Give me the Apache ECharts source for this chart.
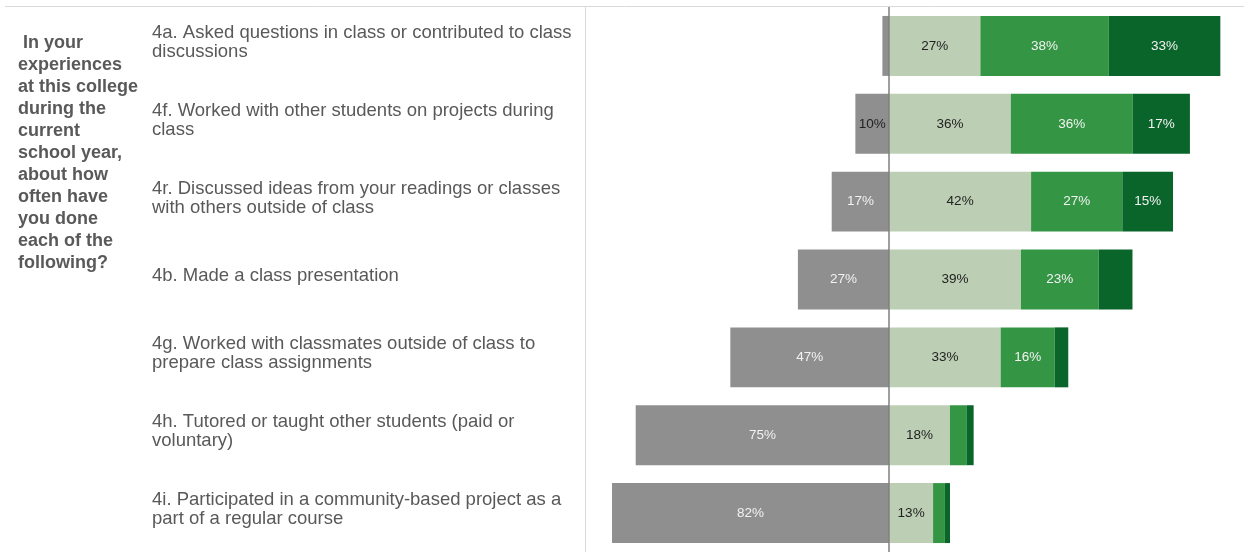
<!DOCTYPE html>
<html>
<head>
<meta charset="utf-8">
<script src="https://cdn.jsdelivr.net/npm/echarts@6/dist/echarts.min.js"></script>
<style>
  html, body { margin: 0; padding: 0; background: #fff; }
  #survey { width: 1244px; height: 552px; }
</style>
</head>
<body>
<div id="survey"></div>
<script>
// items, top to bottom
var items = [
    '4a. Asked questions in class or contributed to class\ndiscussions',
    '4f. Worked with other students on projects during\nclass',
    '4r. Discussed ideas from your readings or classes\nwith others outside of class',
    '4b. Made a class presentation',
    '4g. Worked with classmates outside of class to\nprepare class assignments',
    '4h. Tutored or taught other students (paid or\nvoluntary)',
    '4i. Participated in a community-based project as a\npart of a regular course'
];
// percent of students per answer
var never     = [2, 10, 17, 27, 47, 75, 82];
var sometimes = [27, 36, 42, 39, 33, 18, 13];
var often     = [38, 36, 27, 23, 16, 5, 3.5];
var veryOften = [33, 17, 15, 10, 4, 2, 1.5];
// labels left out in the original
var noLabel = { veryOften: [3] };

window.onload = function () {
    showChart();
};

function pct(p) {
    var v = Math.abs(p.value);
    return v < 10 ? '' : Math.round(v) + '%';
}

function showChart() {
    var myChart = echarts.init(document.getElementById('survey'));

    var neverData = never.map(function (v) {
        return {
            value: -v,
            label: { color: v <= 10 ? '#222' : '#f2f2f2' }
        };
    });
    var veryOftenData = veryOften.map(function (v, i) {
        return noLabel.veryOften.indexOf(i) >= 0 ? { value: v, label: { show: false } } : v;
    });

    var option = {
        animation: false,
        title: {
            text: ' In your\nexperiences\nat this college\nduring the\ncurrent\nschool year,\nabout how\noften have\nyou done\neach of the\nfollowing?',
            left: 13,
            top: 27,
            textStyle: {
                color: '#595959',
                fontSize: 18,
                fontWeight: 'bold',
                fontFamily: 'Liberation Sans, Arial, sans-serif',
                lineHeight: 22
            }
        },
        graphic: [{
            type: 'line',
            shape: { x1: 5, y1: 6.5, x2: 1244, y2: 6.5 },
            style: { stroke: '#d9d9d9', lineWidth: 1 }
        }],
        grid: {
            left: 585,
            right: 0,
            top: 7,
            bottom: -1
        },
        xAxis: {
            type: 'value',
            min: -90,
            max: 105,
            show: false
        },
        yAxis: {
            type: 'category',
            inverse: true,
            data: items,
            axisTick: { show: false },
            axisLine: {
                onZero: false,
                lineStyle: { color: '#d9d9d9', width: 1 }
            },
            axisLabel: {
                align: 'left',
                margin: 433,
                color: '#595959',
                fontSize: 18.5,
                lineHeight: 19,
                fontFamily: 'Liberation Sans, Arial, sans-serif',
                // empty short line underneath lifts the text a little, as in the original
                formatter: function (v) { return v + '\n{gap|}'; },
                rich: { gap: { lineHeight: 7, fontSize: 1 } }
            }
        },
        series: [
            {
                name: 'Never',
                type: 'bar',
                stack: 'all',
                barWidth: '77%',
                itemStyle: { color: '#8f8f8f' },
                label: {
                    show: true,
                    position: 'inside',
                    fontSize: 13.5,
                    fontFamily: 'Liberation Sans, Arial, sans-serif',
                    formatter: pct
                },
                markLine: {
                    silent: true,
                    symbol: 'none',
                    label: { show: false },
                    lineStyle: { color: '#7f7f7f', width: 1.5, type: 'solid' },
                    data: [{ xAxis: 0 }]
                },
                data: neverData
            },
            {
                name: 'Sometimes',
                type: 'bar',
                stack: 'all',
                itemStyle: { color: '#bccfb4' },
                label: {
                    show: true,
                    position: 'inside',
                    color: '#222',
                    fontSize: 13.5,
                    fontFamily: 'Liberation Sans, Arial, sans-serif',
                    formatter: pct
                },
                data: sometimes
            },
            {
                name: 'Often',
                type: 'bar',
                stack: 'all',
                itemStyle: { color: '#349544' },
                label: {
                    show: true,
                    position: 'inside',
                    color: '#f2f2f2',
                    fontSize: 13.5,
                    fontFamily: 'Liberation Sans, Arial, sans-serif',
                    formatter: pct
                },
                data: often
            },
            {
                name: 'Very often',
                type: 'bar',
                stack: 'all',
                itemStyle: { color: '#0a652b' },
                label: {
                    show: true,
                    position: 'inside',
                    color: '#f2f2f2',
                    fontSize: 13.5,
                    fontFamily: 'Liberation Sans, Arial, sans-serif',
                    formatter: pct
                },
                data: veryOftenData
            }
        ]
    };

    myChart.setOption(option);
}
</script>
</body>
</html>
